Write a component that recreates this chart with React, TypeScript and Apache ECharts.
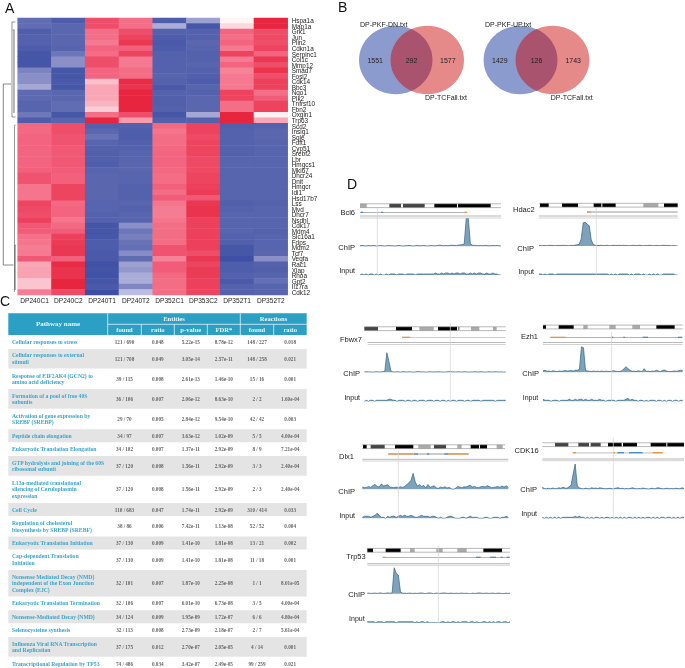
import React, { useEffect, useRef } from "react";
import * as echarts from "echarts";

const sampleLabels = ["DP240C1","DP240C2","DP240T1","DP240T2","DP352C1","DP353C2","DP352T1","DP352T2"];
const geneLabels = ["Hspa1a","Map1a","Grk1","Jun","Plin2","Cdkn1a","Serpinc1","Col1c","Mmp12","Smad7","Fosl2","Cdk14","Bbc3","Nqo1","Plk2","Tnfrsf10","Fbn2","Oxgin1","Trp63","Scd2","Insig1","Sqle","Fdft1","Cyp51","Srebf2","Lbr","Hmgcs1","Mki67","Dhcr24","Dnit","Hmgcr","Idi1","Hsd17b7","Lss","Mvd","Dhcr7","Nsdhl","Cdk17","Mdm4","Slc16a1","Fdps","Mdm2","Tcf7","Vegfa","Rac1","Xiap","Rhoa","Gpt2","Il17ra","Cdk12"];
const heatValues = [
[-.72,-.85,.8,.65,-.85,-.42,.05,.98],[-.72,-.76,.8,.65,-.36,-.9,.2,.98],[-.84,-.76,.65,.8,-.8,-.8,.7,.8],[-.8,-.76,.65,.85,-.85,-.8,.65,.82],
[-.8,-.76,.6,.9,-.88,-.76,.7,.8],[-.85,-.78,.7,.72,-.85,-.78,.6,.85],[-.9,-.66,.66,.85,-.8,-.8,.85,.7],[-.92,-.5,.8,.6,-.8,-.8,.6,.9],
[-.92,-.5,.8,.6,-.8,-.78,.7,.8],[-.58,-.9,.7,.66,-.8,-.8,.55,.92],[-.5,-.9,.7,.66,-.78,-.82,.6,.8],[-.5,-.88,.3,.95,-.8,-.85,.6,.86],
[-.38,-.9,.4,.92,-.88,-.78,.6,.86],[-.74,-.76,.4,.98,-.8,-.8,.85,.65],[-.74,-.76,.4,.98,-.82,-.76,.85,.74],[-.78,-.72,.35,.98,-.82,-.76,.65,.85],
[-.78,-.72,.25,.98,-.8,-.76,.65,.85],[-.65,-.9,.65,.8,-.9,-.38,.98,.08],[-.85,-.78,.98,.45,-.82,-.8,.98,.4],
[.68,.8,-.8,-.8,.68,.85,-.82,-.8],[.68,.8,-.75,-.84,.62,.85,-.8,-.76],[.7,.78,-.68,-.85,.66,.82,-.8,-.76],[.7,.78,-.78,-.82,.66,.84,-.8,-.78],
[.7,.76,-.8,-.8,.68,.84,-.8,-.78],[.7,.76,-.82,-.78,.7,.84,-.8,-.78],[.7,.76,-.82,-.78,.7,.82,-.78,-.78],[.7,.76,-.84,-.76,.7,.82,-.78,-.78],
[.72,.74,-.78,-.76,.68,.82,-.78,-.78],[.78,.72,-.76,-.78,.66,.84,-.78,-.78],[.78,.72,-.76,-.78,.66,.84,-.78,-.78],[.62,.84,-.76,-.8,.72,.86,-.78,-.78],
[.62,.84,-.76,-.8,.66,.88,-.78,-.78],[.62,.84,-.76,-.8,.74,.76,-.78,-.78],[.84,.68,-.78,-.78,.62,.9,-.82,-.8],[.82,.7,-.78,-.8,.58,.92,-.8,-.78],
[.8,.7,-.8,-.78,.58,.92,-.78,-.78],[.86,.62,-.8,-.78,.62,.86,-.78,-.78],[.76,.68,-.92,-.5,.66,.86,-.78,-.78],[.74,.74,-.92,-.66,.66,.86,-.78,-.8],
[.64,.86,-.9,-.6,.66,.86,-.8,-.78],[.62,.88,-.85,-.68,.66,.86,-.82,-.78],[.58,.9,-.85,-.7,.78,.86,-.9,-.78],[.6,.9,-.88,-.52,.78,.8,-.9,-.76],
[.76,.72,-.88,-.72,.56,.9,-.97,-.5],[.4,.95,-.95,-.42,.74,.84,-.84,-.8],[.42,.92,-.93,-.46,.74,.88,-.84,-.82],[.42,.92,-.95,-.36,.68,.88,-.8,-.78],
[.28,.98,-.92,-.36,.66,.86,-.88,-.7],[.28,.98,-.88,-.55,.66,.86,-.8,-.78],[.58,.82,-.98,-.28,.66,.84,-.8,-.78],
];

const pathwayNames = ["Cellular responses to stress","Cellular responses to external\nstimuli","Response of EIF2AK4 (GCN2) to\namino acid deficiency","Formation of a pool of free 40S\nsubunits","Activation of gene expression by\nSREBF (SREBP)","Peptide chain elongation","Eukaryotic Translation Elongation","GTP hydrolysis and joining of the 60S\nribosomal subunit","L13a-mediated translational\nsilencing of Ceruloplasmin\nexpression","Cell Cycle","Regulation of cholesterol\nbiosynthesis by SREBP (SREBF)","Eukaryotic Translation Initiation","Cap-dependent Translation\nInitiation","Nonsense Mediated Decay (NMD)\nindependent of the Exon Junction\nComplex (EJC)","Eukaryotic Translation Termination","Nonsense-Mediated Decay (NMD)","Selenocysteine synthesis","Influenza Viral RNA Transcription\nand Replication","Transcriptional Regulation by TP53"];
const entitiesFound = ["121 / 690","121 / 708","39 / 115","36 / 106","29 / 70","34 / 97","34 / 102","37 / 120","37 / 120","110 / 683","38 / 86","37 / 130","37 / 130","32 / 101","32 / 106","34 / 124","32 / 113","37 / 175","74 / 486"];
const entitiesRatio = ["0.048","0.049","0.008","0.007","0.005","0.007","0.007","0.008","0.008","0.047","0.006","0.009","0.009","0.007","0.007","0.009","0.008","0.012","0.034"];
const pValues = ["5.22e-15","3.05e-14","2.61e-13","2.06e-12","2.84e-12","3.63e-12","1.37e-11","1.56e-11","1.56e-11","1.74e-11","7.42e-11","1.41e-10","1.41e-10","1.87e-10","6.01e-10","1.95e-09","2.73e-09","2.70e-07","3.42e-07"];
const fdrValues = ["8.78e-12","2.57e-11","1.46e-10","8.63e-10","9.54e-10","1.02e-09","2.92e-09","2.92e-09","2.92e-09","2.92e-09","1.13e-08","1.81e-08","1.81e-08","2.25e-08","6.73e-08","1.72e-07","2.18e-07","2.05e-05","2.49e-05"];
const reactionsFound = ["148 / 227","148 / 258","15 / 16","2 / 2","42 / 42","5 / 5","8 / 9","3 / 3","2 / 3","310 / 414","52 / 52","13 / 21","11 / 18","1 / 1","3 / 5","6 / 6","2 / 7","4 / 14","99 / 259"];
const reactionsRatio = ["0.018","0.021","0.001","1.60e-04","0.003","4.00e-04","7.21e-04","2.40e-04","2.40e-04","0.033","0.004","0.002","0.001","8.01e-05","4.00e-04","4.80e-04","5.61e-04","0.001","0.021"];

const bcl6Chip = [2,3,2,1,3,2,2,3,1,2,3,2,1,2,3,2,2,1,2,3,2,1,2,2,3,2,1,2,3,2,2,3,2,1,2,3,2,2,3,4,3,2,3,2,3,4,3,3,4,5,6,8,100,100,9,4,3,3,2,3,2,3,3,2,2,3,2,3,2,1];
const bcl6Input = [0,1,0,1,0,1,1,0,1,0,1,0,0,1,0,1,1,1,0,1,1,1,0,1,1,1,1,0,1,1,1,1,1,1,1,1,1,2,1,1,2,1,2,2,1,2,1,2,2,1,2,2,1,1,2,1,2,1,2,2,1,1,2,1,1,2,1,1,0,0];
const hdac2Chip = [2,1,2,2,1,3,2,2,1,2,2,2,3,2,2,1,3,2,4,5,7,30,98,100,92,85,26,6,3,2,2,3,2,2,3,1,2,3,2,2,3,2,3,2,2,1,2,3,2,2,3,2,1,2,2,3,2,1,2,2,1,2,3,2,2,2,1,2,1,0];
const hdac2Input = [1,1,0,1,0,1,1,1,0,1,1,1,1,1,1,1,1,1,1,1,1,1,1,1,1,1,1,1,1,1,1,1,1,1,1,0,1,0,1,0,1,1,1,1,1,0,1,0,1,1,1,0,1,0,0,1,0,1,0,1,0,0,1,1,1,1,1,1,0,0];
const fbxw7Chip = [2,3,2,2,1,2,3,2,2,3,6,100,55,6,2,2,3,2,1,4,2,2,3,2,1,2,4,3,2,2,1,2,3,2,2,2,3,2,2,1,2,3,4,2,2,2,3,2,2,3,2,1,2,2,3,2,2,3,2,1,2,3,2,2,3,2,2,2,1,2];
const fbxw7Input = [0,1,0,1,1,0,1,1,1,1,1,1,2,2,1,1,0,1,1,1,0,1,1,0,1,1,0,1,1,1,0,1,1,1,0,1,1,0,1,1,0,1,0,1,1,0,1,1,1,0,1,1,0,1,1,1,1,0,1,1,1,1,1,1,0,1,1,1,1,1];
const ezh1Chip = [6,8,4,5,3,6,4,3,5,4,5,7,5,6,7,5,8,8,12,100,96,8,5,4,3,5,3,4,3,5,3,4,4,3,5,6,4,3,3,6,14,22,14,8,4,4,3,6,4,3,14,4,4,3,5,4,8,5,3,7,9,5,3,3,4,5,4,6,8,7];
const ezh1Input = [2,1,1,1,0,1,1,1,0,1,1,1,1,2,1,1,2,1,2,2,1,2,1,1,2,1,1,1,2,1,1,0,1,1,1,1,0,1,1,1,1,2,3,1,2,1,1,0,1,1,0,1,0,1,1,1,0,1,1,0,1,0,1,1,0,1,1,0,1,1];
const dlx1Chip = [14,10,12,18,12,24,30,18,14,34,20,24,28,14,12,10,14,10,16,12,18,28,42,55,100,46,20,30,18,24,8,30,12,18,22,8,6,14,10,16,8,12,4,0,6,18,14,10,16,14,20,26,14,18,12,10,16,18,14,22,18,10,12,14,18,12,20,14,22,12];
const dlx1Input = [1,2,2,2,1,2,3,5,3,1,1,0,2,1,2,2,1,2,3,2,3,2,2,3,2,1,1,2,3,2,2,2,1,2,2,1,0,1,0,0,1,2,2,1,0,0,0,1,1,0,1,2,1,1,1,0,0,0,1,1,0,0,1,1,1,0,1,1,2,1];
const cdk16Chip = [8,3,2,4,2,5,3,2,6,4,8,5,4,10,16,60,100,14,6,3,2,4,3,2,6,4,5,3,6,4,3,2,3,4,2,3,5,6,3,4,2,3,2,4,6,3,2,3,2,5,3,2,1,4,3,2,6,5,3,2,3,4,2,3,2,4,3,2,6,3];
const cdk16Input = [1,0,1,0,1,0,1,0,1,0,1,1,1,1,1,1,2,1,2,1,1,0,1,0,1,0,1,1,0,1,0,1,1,0,1,0,1,0,1,0,1,0,1,1,0,1,0,1,0,1,0,1,1,0,1,0,1,0,1,1,0,1,1,0,1,0,1,0,1,1];
const trp53Chip = [2,2,1,2,2,1,3,2,1,2,3,2,3,100,78,72,8,2,2,1,2,2,1,2,1,2,3,2,0,2,3,2,0,2,2,1,2,3,2,1,2,2,1,2,1,2,2,1,2,0,0,2,1,2,3,2,1,2,2,1,2,2,1,2,2,1,1,2,1,2];
const trp53Input = [1,1,1,1,0,1,1,1,0,1,1,1,1,1,0,1,1,1,1,1,1,1,1,0,1,0,1,1,0,1,0,0,0,0,0,0,1,1,0,1,0,1,1,0,1,0,1,1,1,0,1,1,0,1,0,0,1,1,0,1,0,1,0,1,1,0,1,1,0,1];

// Layout of the seven genome browser panels (x in 3x-zoom units from x=330)
const panels = [
  { name:"Bcl6", x0:90,x1:513, ideoY:205.7, geneY:212.3, rule:[216,218], top:218.3, base:246.3, inBase:275, vline:142, vTop:208, vBot:275,
    label:[355,212.5], chipL:[355,247], inL:[355,270.7], chip:bcl6Chip, input:bcl6Input,
    ideo:[[90,110,"#aaa"],[178,213,"#444"],[219,284,"#444"],[313,381,"#000"],[384,482,"#000"]],
    gene:[[90,412,"#999"],[92,99,"#3b86c4"],[153,158,"#3b86c4"],[403,411,"#e8913a"]] },
  { name:"Hdac2", x0:627,x1:1043, ideoY:205.2, geneY:212, rule:[216,218], top:222.3, base:246, inBase:275, vline:799, vTop:208, vBot:275,
    label:[534.7,209.3], chipL:[534,248.3], inL:[534,271.7], chip:hdac2Chip, input:hdac2Input,
    ideo:[[630,656,"#000"],[696,744,"#000"],[791,814,"#000"],[817,857,"#000"],[940,985,"#aaa"],[1002,1043,"#000"]],
    gene:[[771,1043,"#999"],[771,782,"#e8913a"]] },
  { name:"Fbwx7", x0:103,x1:527, ideoY:328.7, geneY:337.3, rule:[342.5,344.5], ruleX:113, top:352.7, base:372.3, inBase:401.3, vline:361, vTop:323, vBot:401,
    label:[362,339], chipL:[360,373.3], inL:[360,397], chip:fbxw7Chip, input:fbxw7Input,
    ideo:[[103,144,"#444"],[198,246,"#000"],[268,311,"#aaa"],[324,381,"#000"],[385,388,"#444"],[423,448,"#aaa"],[489,500,"#aaa"]],
    gene:[[216,527,"#ccc"],[216,240,"#e8913a"]] },
  { name:"Ezh1", x0:639,x1:1058, ideoY:327, geneY:337.3, rule:[342.5,344.5], top:346.7, base:372.3, inBase:401.3, vline:845, vTop:332, vBot:401,
    label:[538,336], chipL:[539,373.3], inL:[538.3,397.7], chip:ezh1Chip, input:ezh1Input,
    ideo:[[639,648,"#000"],[686,731,"#000"],[760,773,"#aaa"],[838,857,"#aaa"],[907,930,"#aaa"],[979,1034,"#000"]],
    gene:[[661,1058,"#999"],[661,707,"#e8913a"],[845,850,"#3b86c4"],[880,885,"#3b86c4"],[938,954,"#3b86c4"],[1044,1056,"#3b86c4"]] },
  { name:"Dlx1", x0:97,x1:535, ideoEnd:525, ideoY:446.7, geneY:454, rule:[459.3,461], top:473.3, base:489.3, inBase:518.3, vline:205, vTop:450, vBot:518,
    label:[354,456], chipL:[355,491], inL:[355,515], chip:dlx1Chip, input:dlx1Input,
    ideo:[[99,110,"#000"],[122,164,"#444"],[195,250,"#000"],[265,302,"#aaa"],[312,348,"#444"],[382,395,"#aaa"],[422,447,"#000"],[450,471,"#000"],[500,518,"#aaa"]],
    gene:[[175,417,"#999"],[175,250,"#e8913a"],[252,264,"#3b86c4"],[291,298,"#3b86c4"],[343,355,"#3b86c4"],[355,415,"#e8913a"]] },
  { name:"CDK16", x0:637,x1:1062, ideoY:444.7, geneY:452.7, rule:[459,460.7], top:464, base:489.3, inBase:518.3, vline:850, vTop:438, vBot:518,
    label:[538.7,450.7], chipL:[537,489.7], inL:[537,513.7], chip:cdk16Chip, input:cdk16Input,
    ideo:[[675,715,"#444"],[745,777,"#444"],[782,812,"#444"],[834,875,"#000"],[879,921,"#000"],[962,1009,"#000"],[1012,1062,"#000"]],
    gene:[[728,1000,"#ccc"],[728,738,"#e8913a"],[849,855,"#e8913a"],[862,882,"#3b86c4"],[897,938,"#3b86c4"],[968,998,"#e8913a"]] },
  { name:"Trp53", x0:112,x1:540, ideoY:550.3, geneY:557.3, rule:[563.7,565.3], top:567.7, base:593.7, inBase:622.7, vline:325, vTop:546, vBot:623,
    label:[365.7,556.7], chipL:[365,594.7], inL:[364.7,618.3], chip:trp53Chip, input:trp53Input,
    ideo:[[112,129,"#000"],[167,212,"#000"],[240,254,"#aaa"],[319,338,"#aaa"],[382,410,"#aaa"],[460,516,"#000"]],
    gene:[[158,540,"#999"],[158,166,"#e8913a"],[438,452,"#3b86c4"],[480,498,"#3b86c4"],[512,518,"#3b86c4"],[530,538,"#3b86c4"]] },
];

const zx = (v: number) => 330 + v / 3;
const SANS = '"Liberation Sans"';
const SERIF = '"Liberation Serif"';

echarts.graphic.registerShape("vennLens", echarts.graphic.extendPath("M0 -31 A 36.7 34.3 0 0 1 0 31 A 36.7 34.3 0 0 1 0 -31 Z", {}));

const txt = (text: string, x: number, y: number, font: string, fill = "#222", align = "left", extra: any = {}) => ({
  type: "text", x, y, silent: true, z: 20,
  style: { text, fill, font, textAlign: align, textVerticalAlign: "middle", ...extra },
});
const rect = (x: number, y: number, w: number, h: number, fill: string, z = 1) => ({
  type: "rect", silent: true, z, shape: { x, y, width: w, height: h }, style: { fill },
});
const seg = (pts: number[][], stroke = "#555", lineWidth = 0.7) => ({
  type: "polyline", silent: true, z: 5, shape: { points: pts }, style: { stroke, lineWidth, fill: "none" },
});

function dendrogram() {
  const out: any[] = [
    seg([[11, 84], [3.3, 84], [3.3, 265], [13.5, 265]]),
    seg([[15.5, 22], [12, 22], [12, 117], [15.5, 117]], "#666"),
    seg([[12.5, 30], [14, 30], [14, 113]], "#888", 1.2),
    seg([[15.5, 125], [14.5, 125], [14.5, 292]], "#999", 1),
    seg([[15.5, 245], [15, 245], [15, 290]], "#555", 0.9),
  ];
  return out;
}

function venn(cx1: number, cx2: number, nums: string[], labA: string, ax: number, bx: number) {
  const mid = (cx1 + cx2) / 2;
  return [
    { type: "ellipse", silent: true, z: 2, shape: { cx: cx1, cy: 60, rx: 36.7, ry: 34.3 }, style: { fill: "#8c9bce" } },
    { type: "ellipse", silent: true, z: 3, shape: { cx: cx2, cy: 60, rx: 36.7, ry: 34.3 }, style: { fill: "#e58a88" } },
    { type: "vennLens", silent: true, z: 4, x: mid, y: 60, style: { fill: "#a9536f" } },
    txt(labA, ax, 24.5, `7px ${SANS}`),
    txt("DP-TCFall.txt", bx, 97, `7px ${SANS}`),
    txt(nums[0], cx1 - 20.5, 60, `7px ${SANS}`, "#222", "center"),
    txt(nums[1], mid, 60, `7px ${SANS}`, "#222", "center"),
    txt(nums[2], cx2 + 20.5, 60, `7px ${SANS}`, "#222", "center"),
  ];
}

function tableElements() {
  const colX = [8.3, 107.7, 141.3, 174.3, 207.3, 240.3, 273.7, 306.7];
  const els: any[] = [rect(8.3, 313.3, 298.4, 21.7, "#2c9fc5", 1)];
  const headFont = `bold 6.6px ${SERIF}`;
  els.push(seg([[107.7, 313.3], [107.7, 335]], "#fff", 0.7), seg([[240.3, 313.3], [240.3, 335]], "#fff", 0.7), seg([[107.7, 324.3], [306.7, 324.3]], "#fff", 0.7));
  [141.3, 174.3, 207.3, 273.7].forEach((x) => els.push(seg([[x, 324.3], [x, 335]], "#fff", 0.7)));
  els.push(txt("Pathway name", 58, 324.3, `bold 7px ${SERIF}`, "#e8f6fb", "center"));
  els.push(txt("Entities", 174, 318.8, headFont, "#e8f6fb", "center"));
  els.push(txt("Reactions", 273.5, 318.8, headFont, "#e8f6fb", "center"));
  ["found", "ratio", "p-value", "FDR*", "found", "ratio"].forEach((h, i) =>
    els.push(txt(h, (colX[i + 1] + colX[i + 2]) / 2, 329.5, headFont, "#e8f6fb", "center")));

  let y = 335.5;
  const lineH = 6.7;
  const cols = [entitiesFound, entitiesRatio, pValues, fdrValues, reactionsFound, reactionsRatio];
  pathwayNames.forEach((name, r) => {
    const lines = name.split("\n").length;
    const h = lineH * (lines + 1);
    if (r % 2 === 1) els.push(rect(8.3, y, 298.4, h - 0.4, "#e4e4e4", 1));
    const cy = y + h / 2 - 0.2;
    els.push(txt(name, 12, cy, `bold 5.7px ${SERIF}`, "#3ba5cb", "left", { lineHeight: lineH }));
    cols.forEach((c, i) => els.push(txt(c[r], (colX[i + 1] + colX[i + 2]) / 2, cy, `bold 5.2px ${SERIF}`, "#666", "center")));
    y += h;
  });
  return els;
}

function panelElements() {
  const els: any[] = [];
  panels.forEach((p: any) => {
    const x0 = zx(p.x0), x1 = zx(p.x1), iEnd = zx(p.ideoEnd ?? p.x1);
    els.push(rect(x0, p.ideoY - 1.9, iEnd - x0, 3.8, "#fff", 1));
    els.push(seg([[x0, p.ideoY - 1.9], [iEnd, p.ideoY - 1.9]], "#888", 0.6));
    els.push(seg([[x0, p.ideoY + 1.9], [iEnd, p.ideoY + 1.9]], "#888", 0.6));
    p.ideo.forEach(([a, b, c]: any) => els.push(rect(zx(a), p.ideoY - 1.9, (b - a) / 3, 3.8, c, 2)));
    p.gene.forEach(([a, b, c]: any) => els.push(rect(zx(a), p.geneY - (c === "#999" || c === "#ccc" ? 0.4 : 0.6), (b - a) / 3, c === "#999" ? 0.8 : 1.2, c, c === "#999" || c === "#ccc" ? 2 : 3)));
    const rx = p.ruleX ? zx(p.ruleX) : x0;
    els.push(seg([[rx, p.rule[0]], [x1, p.rule[0]]], "#999", 0.7));
    els.push(seg([[rx, p.rule[1]], [x1, p.rule[1]]], "#c8c8c8", 0.8));
    els.push(seg([[zx(p.vline), p.vTop], [zx(p.vline), p.vBot]], "#d5d5d5", 0.7));
    els.push(txt(p.name, p.label[0], p.label[1], `7.5px ${SANS}`, "#222", "right"));
    els.push(txt("ChIP", p.chipL[0], p.chipL[1], `7.5px ${SANS}`, "#222", "right"));
    els.push(txt("Input", p.inL[0], p.inL[1], `7px ${SANS}`, "#222", "right"));
  });
  return els;
}

function buildOption() {
  const grid: any[] = [{ left: 17.7, top: 18, width: 270, height: 277 }];
  const xAxis: any[] = [{
    type: "category", gridIndex: 0, data: sampleLabels, position: "bottom",
    axisLine: { show: false }, axisTick: { show: false }, splitLine: { show: false },
    axisLabel: { fontSize: 6.6, fontFamily: "Liberation Sans", color: "#222", margin: 2, interval: 0 },
  }];
  const yAxis: any[] = [{
    type: "category", gridIndex: 0, data: geneLabels, inverse: true, position: "right",
    axisLine: { show: false }, axisTick: { show: false }, splitLine: { show: false },
    axisLabel: { fontSize: 6.4, fontFamily: "Liberation Sans", color: "#222", margin: 4, interval: 0 },
  }];
  const data: number[][] = [];
  heatValues.forEach((row, r) => row.forEach((v, c) => data.push([c, r, v])));
  const series: any[] = [{
    type: "heatmap", xAxisIndex: 0, yAxisIndex: 0, data, silent: true,
    itemStyle: { borderWidth: 0 }, progressive: 0,
  }];

  const addTrack = (values: number[], left: number, width: number, top: number, height: number, max: number) => {
    const i = grid.length;
    grid.push({ left, top, width, height });
    xAxis.push({ type: "category", gridIndex: i, show: false, boundaryGap: false, data: values.map((_, k) => k) });
    yAxis.push({ type: "value", gridIndex: i, show: false, min: 0, max });
    series.push({
      type: "line", xAxisIndex: i, yAxisIndex: i, data: values, symbol: "none", silent: true,
      lineStyle: { color: "#2f6385", width: 0.7 }, areaStyle: { color: "#7fa2bc", opacity: 1 },
    });
  };
  panels.forEach((p: any) => {
    const left = zx(p.x0), width = (p.x1 - p.x0) / 3;
    addTrack(p.chip, left, width, p.top, p.base - p.top, 100);
    addTrack(p.input, left, width, p.inBase - 6, 6, 6);
  });

  return {
    animation: false,
    backgroundColor: "#fff",
    grid, xAxis, yAxis, series,
    visualMap: {
      show: false, min: -1, max: 1, seriesIndex: 0, dimension: 2,
      inRange: { color: ["#3a4ca3", "#5b68b0", "#8a8fc7", "#c2c4e3", "#ffffff", "#fbcdd6", "#f78ea1", "#f15a76", "#e6203a"] },
    },
    graphic: {
      elements: [
        txt("A", 5, 8, `14px ${SANS}`, "#111"),
        txt("B", 338, 7, `14px ${SANS}`, "#111"),
        txt("C", 0, 301, `14px ${SANS}`, "#111"),
        txt("D", 347, 184, `14px ${SANS}`, "#111"),
        ...dendrogram(),
        ...venn(395.7, 427.3, ["1551", "292", "1577"], "DP-PKF-DN.txt", 360, 425),
        ...venn(520.3, 552.7, ["1429", "126", "1743"], "DP-PKF-UP.txt", 485, 550.7),
        ...tableElements(),
        ...panelElements(),
      ],
    },
  };
}

export default function App() {
  const ref = useRef<HTMLDivElement>(null);
  useEffect(() => {
    document.body.style.margin = "0";
    const chart = echarts.init(ref.current!, undefined, { renderer: "svg" });
    chart.setOption(buildOption() as any);
    return () => chart.dispose();
  }, []);
  return <div ref={ref} style={{ position: "fixed", left: 0, top: 0, width: 685, height: 668, filter: "blur(0.35px)" }} />;
}
